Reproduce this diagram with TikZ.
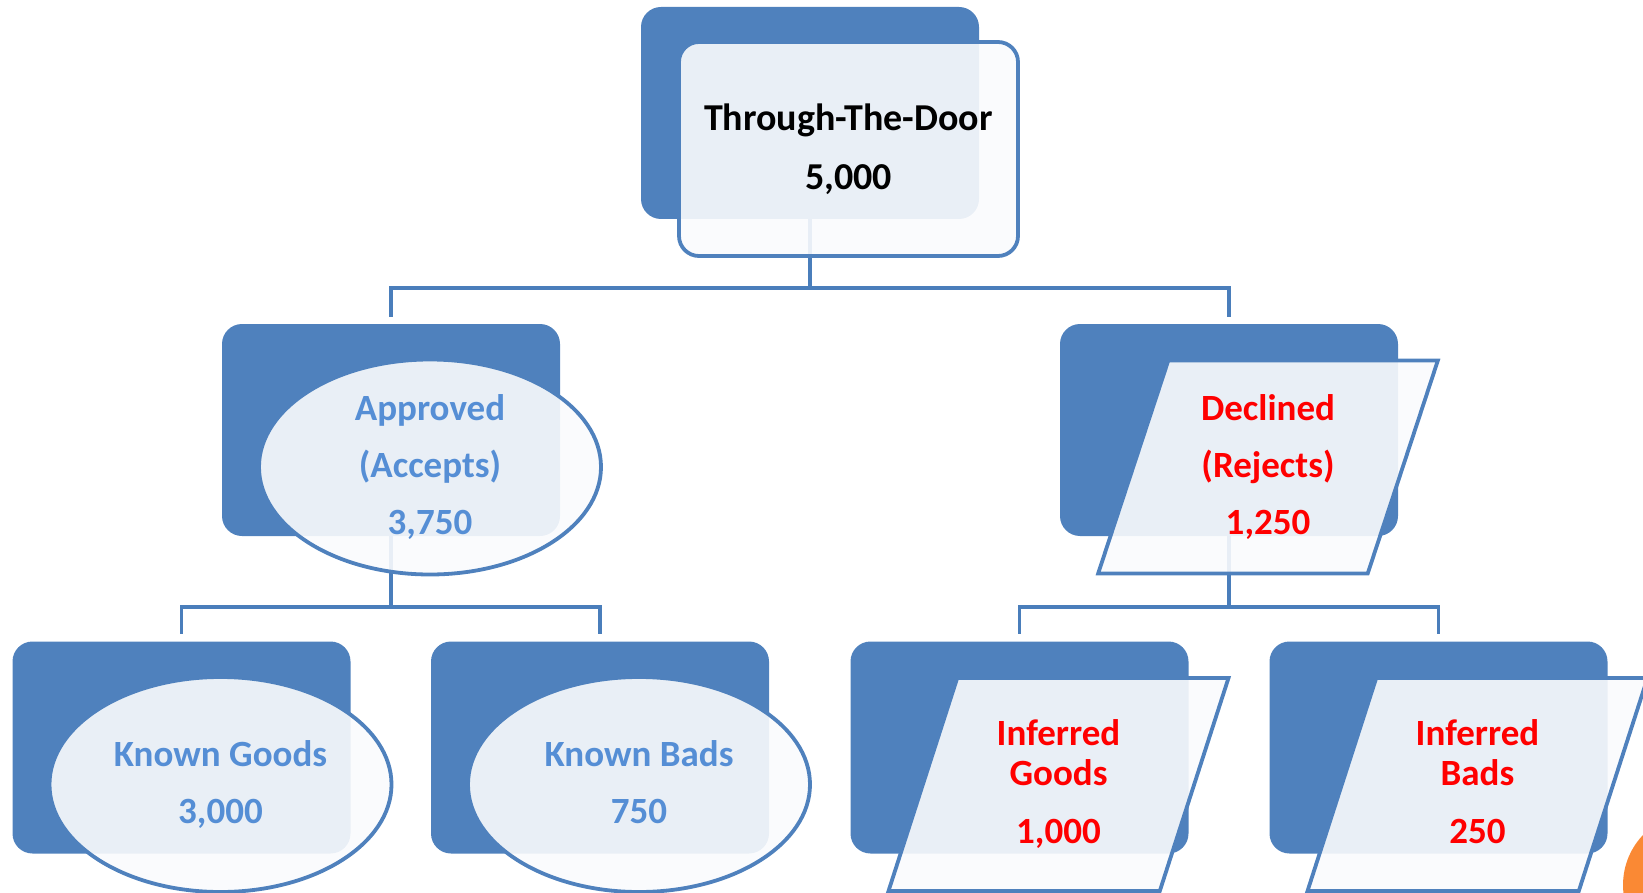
\documentclass[tikz,border=0pt]{standalone}
\usepackage{fontspec}
\setmainfont{Carlito}
\usetikzlibrary{shapes.geometric}
\definecolor{boxblue}{RGB}{79,129,189}
\definecolor{lineblue}{RGB}{74,126,187}
\definecolor{textblue}{RGB}{85,142,213}
\definecolor{frontfill}{RGB}{250,251,253}
\definecolor{dotorange}{RGB}{250,137,52}
\begin{document}
\begin{tikzpicture}[x=1pt,y=-1pt,
  back/.style={rectangle,rounded corners=20pt,fill=boxblue,minimum width=338pt,minimum height=212pt,inner sep=0pt},
  front/.style={draw=boxblue,line width=3.8pt,fill=frontfill,fill opacity=0.9,text opacity=1,
    font=\fontsize{37}{40}\selectfont\bfseries,align=center,inner sep=0pt},
  roundbox/.style={front,rectangle,rounded corners=20pt,minimum width=339pt,minimum height=214pt},
  oval/.style={front,ellipse,minimum width=342pt,minimum height=215pt,text=textblue},
  slanted/.style={front,trapezium,trapezium left angle=72,trapezium right angle=108,
    trapezium stretches=true,minimum width=340pt,minimum height=213pt,text=red},
  link/.style={draw=lineblue,line width=3.5pt,shorten >=7pt}]
\useasboundingbox (0,0) rectangle (1643,893);
\clip (0,0) rectangle (1643,893);

% back boxes
\node[back] (bTop) at (810,113) {};
\node[back] (bAppr) at (391,430) {};
\node[back] (bDecl) at (1229,430) {};
\node[back] (bKG) at (181.5,747.5) {};
\node[back] (bKB) at (600,747.5) {};
\node[back] (bIG) at (1019.5,747.5) {};
\node[back] (bIB) at (1438.5,747.5) {};

% links
\draw[link] (bTop.south) -- ++(0,69) -| (bAppr.north);
\draw[link] (bTop.south) -- ++(0,69) -| (bDecl.north);
\draw[link] (bAppr.south) -- ++(0,71) -| (bKG.north);
\draw[link] (bAppr.south) -- ++(0,71) -| (bKB.north);
\draw[link] (bDecl.south) -- ++(0,71) -| (bIG.north);
\draw[link] (bDecl.south) -- ++(0,71) -| (bIB.north);

% front shapes
\node[roundbox,font=\fontsize{38}{41}\selectfont\bfseries] (top) at ([shift={(38.5,36)}]bTop.center) {Through-The-Door\\[18pt]5,000};
\node[oval] (appr) at ([shift={(39,37)}]bAppr.center) {Approved\\[17pt](Accepts)\\[17pt]3,750};
\node[slanted] (decl) at ([shift={(39,37)}]bDecl.center) {Declined\\[17pt](Rejects)\\[17pt]1,250};
\node[oval] (kg) at ([shift={(39,37)}]bKG.center) {Known Goods\\[17pt]3,000};
\node[oval] (kb) at ([shift={(39,37)}]bKB.center) {Known Bads\\[17pt]750\vphantom{,}};
\node[slanted] (ig) at ([shift={(39,37)}]bIG.center) {Inferred\\Goods\\[18pt]1,000};
\node[slanted] (ib) at ([shift={(39,37)}]bIB.center) {Inferred\\Bads\\[18pt]250\vphantom{,}};

\fill[dotorange] (1695.5,885) circle (72.5);
\end{tikzpicture}
\end{document}
